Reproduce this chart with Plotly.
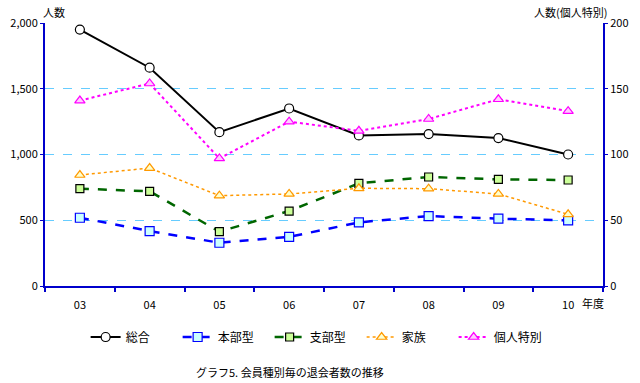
import plotly.graph_objects as go

years = ["03", "04", "05", "06", "07", "08", "09", "10"]
total = [1950, 1660, 1170, 1350, 1145, 1155, 1125, 1000]
honbu = [519, 418, 329, 373, 484, 532, 512, 499]
shibu = [740, 720, 413, 570, 781, 829, 811, 806]
kazoku = [844, 897, 687, 700, 743, 740, 700, 545]
kojin = [141, 154, 97, 125, 118, 127, 142, 133]

FONT = "Noto Sans CJK JP"
AX = "#0000CC"

fig = go.Figure()
fig.add_trace(go.Scatter(x=years, y=total, name="総合", mode="lines+markers",
    line=dict(color="black", width=2),
    marker=dict(symbol="circle", size=9, color="white", line=dict(color="black", width=1.2))))
fig.add_trace(go.Scatter(x=years, y=honbu, name="本部型", mode="lines+markers",
    line=dict(color="#0000FF", width=2.5, dash="dash"),
    marker=dict(symbol="square", size=9, color="#CCFFFF", line=dict(color="#0000FF", width=1.2))))
fig.add_trace(go.Scatter(x=years, y=shibu, name="支部型", mode="lines+markers",
    line=dict(color="#006600", width=2.5, dash="dash"),
    marker=dict(symbol="square", size=8, color="#CCFF99", line=dict(color="black", width=1.2))))
fig.add_trace(go.Scatter(x=years, y=kazoku, name="家族", mode="lines+markers",
    line=dict(color="#FF9900", width=1.5, dash="dot"),
    marker=dict(symbol="triangle-up", size=9, color="#FFFFCC", line=dict(color="#FF9900", width=1.2))))
fig.add_trace(go.Scatter(x=years, y=kojin, name="個人特別", mode="lines+markers", yaxis="y2",
    line=dict(color="#FF00FF", width=2, dash="dot"),
    marker=dict(symbol="triangle-up", size=9, color="#FFCCFF", line=dict(color="#FF00FF", width=1.2))))

fig.update_layout(
    width=640, height=383,
    margin=dict(l=45, r=37, t=23, b=97),
    paper_bgcolor="white", plot_bgcolor="white",
    font=dict(family=FONT, size=11, color="black"),
    showlegend=True,
    legend=dict(orientation="h", x=0.485, xanchor="center", y=-0.194, yanchor="middle",
                font=dict(size=12), itemwidth=30, tracegroupgap=0,
                entrywidth=47, entrywidthmode="pixels"),
    xaxis=dict(type="category", range=[-0.5, 7.5], tickson="boundaries",
               ticks="outside", ticklen=4, tickcolor=AX, tickwidth=1.5,
               showline=True, linecolor=AX, linewidth=2, showgrid=False,
               tickfont=dict(size=11), ticklabelstandoff=8, automargin=False),
    yaxis=dict(range=[0, 2000], tickvals=[0, 500, 1000, 1500, 2000], tickformat=",d",
               ticks="outside", ticklen=3, tickcolor=AX, showline=True, linecolor=AX, linewidth=2,
               showgrid=True, gridcolor="#66CCFF", griddash="dash", gridwidth=1,
               zeroline=False, tickfont=dict(size=11), automargin=False),
    yaxis2=dict(range=[0, 200], tickvals=[0, 50, 100, 150, 200], overlaying="y", side="right",
                ticks="outside", ticklen=3, tickcolor=AX, showline=True, linecolor=AX, linewidth=2,
                showgrid=False, zeroline=False, tickfont=dict(size=11), automargin=False),
    annotations=[
        dict(text="人数", xref="paper", yref="paper", x=0, y=1, xanchor="left", yanchor="bottom",
             xshift=-4, yshift=1, showarrow=False, font=dict(size=11)),
        dict(text="人数(個人特別)", xref="paper", yref="paper", x=1, y=1, xanchor="right", yanchor="bottom",
             xshift=6, yshift=1, showarrow=False, font=dict(size=11)),
        dict(text="年度", xref="paper", yref="paper", x=1, y=0, xanchor="right", yanchor="middle",
             xshift=3, yshift=-17, showarrow=False, font=dict(size=11)),
        dict(text="グラフ5. 会員種別毎の退会者数の推移", xref="paper", yref="paper", x=0.439, y=-0.327,
             xanchor="center", yanchor="middle", showarrow=False, font=dict(size=11)),
    ],
)

fig.write_html("out.html", config={"displayModeBar": False},
               post_script="document.body.style.margin='0px';")
